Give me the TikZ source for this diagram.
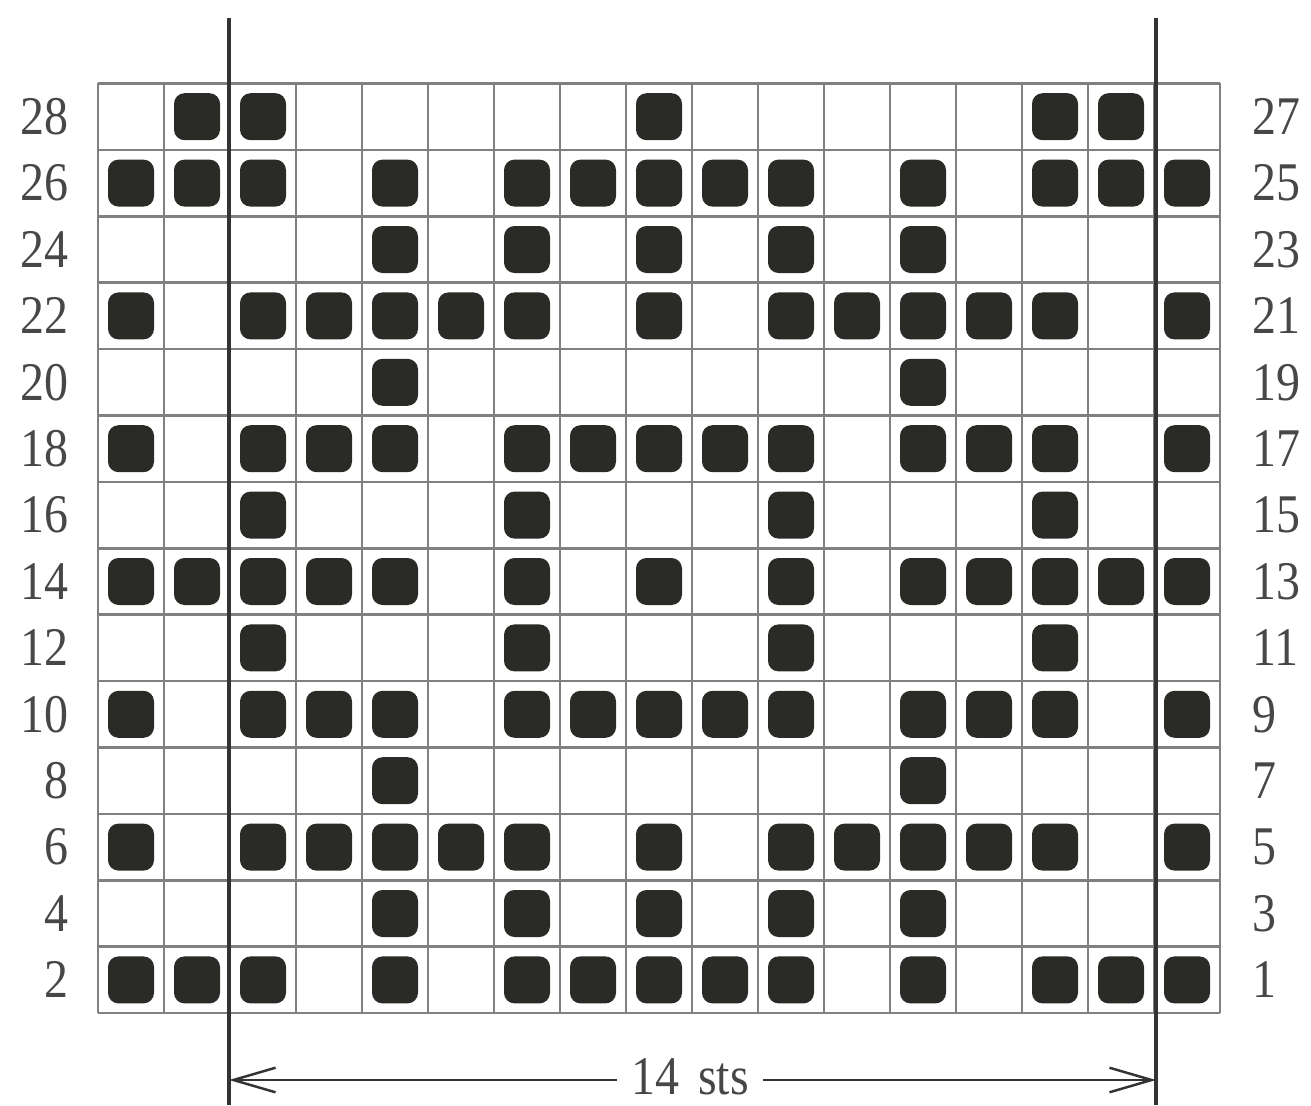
\documentclass[tikz,border=0pt]{standalone}
\usepackage{fontspec}
\setmainfont[FakeStretch=0.88]{Liberation Serif}
\usetikzlibrary{arrows.meta}
\definecolor{ink}{HTML}{2A2A27}
\definecolor{gridc}{HTML}{808080}
\definecolor{linec}{HTML}{333333}
\definecolor{txtc}{HTML}{474747}
\tikzset{
  gridline/.style={draw=gridc, line width=1.4pt},
  guide/.style={draw=linec, line width=1.8pt},
  stitch/.style={fill=ink, rounded corners=6pt},
  rowlabel/.style={text=txtc, font=\fontsize{31}{36}\selectfont, inner sep=0pt},
  dimarrow/.style={draw=linec, line width=1.4pt, -{Straight Barb[length=24pt,width=14pt,line width=1.4pt]}}
}
\begin{document}
\begin{tikzpicture}[x=0.02cm,y=-0.02cm]
\useasboundingbox (0,0) rectangle (1311,1105);
\fill[white] (0,0) rectangle (1311,1105);
\def\xo{98}\def\cw{66}\def\yo{83.5}\def\rh{66.4}
% filled stitches
\foreach \r/\cols in {
  1/{2,3,9,15,16},
  2/{1,2,3,5,7,8,9,10,11,13,15,16,17},
  3/{5,7,9,11,13},
  4/{1,3,4,5,6,7,9,11,12,13,14,15,17},
  5/{5,13},
  6/{1,3,4,5,7,8,9,10,11,13,14,15,17},
  7/{3,7,11,15},
  8/{1,2,3,4,5,7,9,11,13,14,15,16,17},
  9/{3,7,11,15},
  10/{1,3,4,5,7,8,9,10,11,13,14,15,17},
  11/{5,13},
  12/{1,3,4,5,6,7,9,11,12,13,14,15,17},
  13/{5,7,9,11,13},
  14/{1,2,3,5,7,8,9,10,11,13,15,16,17}}{
  \foreach \c in \cols {
    \pgfmathsetmacro{\cx}{\xo+(\c-0.5)*\cw}
    \pgfmathsetmacro{\cy}{\yo+(\r-0.5)*\rh}
    \fill[stitch] (\cx-23,\cy-23.5) rectangle (\cx+23,\cy+23.5);
  }
}
% grid
\foreach \i in {0,...,17}{
  \draw[gridline] (\xo+\i*\cw,\yo) -- (\xo+\i*\cw,\yo+14*\rh);
}
\foreach \j in {0,...,14}{
  \draw[gridline] (\xo,\yo+\j*\rh) -- (\xo+17*\cw,\yo+\j*\rh);
}
% row labels
\foreach \r in {1,...,14}{
  \pgfmathtruncatemacro{\lft}{30-2*\r}
  \pgfmathtruncatemacro{\rgt}{29-2*\r}
  \pgfmathsetmacro{\cy}{\yo+(\r-0.5)*\rh}
  \node[rowlabel, anchor=east] (L\r) at (69,\cy) {\lft};
  \node[rowlabel, anchor=west] (R\r) at (1252,\cy) {\rgt};
}
% repeat guides
\coordinate (gltop) at (229,18);
\coordinate (glbot) at (229,1105);
\coordinate (grtop) at (1156,18);
\coordinate (grbot) at (1156,1105);
\draw[guide] (gltop) -- (glbot);
\draw[guide] (grtop) -- (grbot);
% dimension
\node[rowlabel, anchor=base] (sts) at (690,1094) {14\hspace{0.35em}sts};
\coordinate (al) at (229,1080);
\coordinate (ar) at (1156,1080);
\draw[dimarrow] (sts.west |- al) ++(-14,0) -- (al);
\draw[dimarrow] (sts.east |- ar) ++(14,0) -- (ar);
\end{tikzpicture}
\end{document}
